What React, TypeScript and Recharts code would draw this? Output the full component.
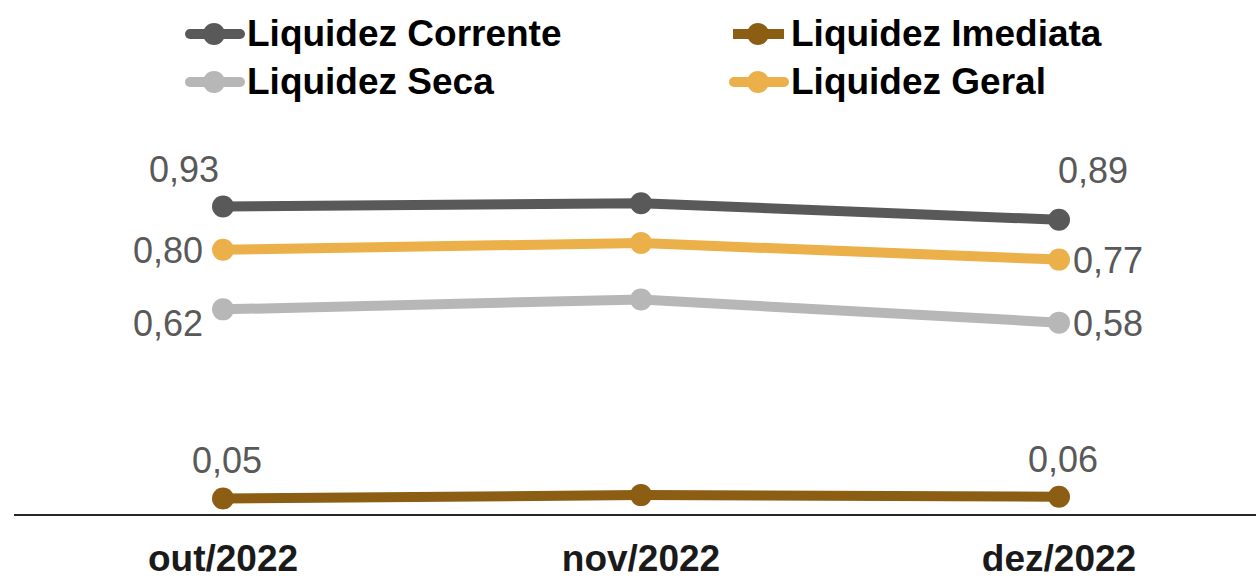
import { LineChart, Line, XAxis, YAxis } from 'recharts'

const months = ['out/2022', 'nov/2022', 'dez/2022']
const corrente = [0.93, 0.94, 0.89]
const imediata = [0.05, 0.06, 0.055]
const seca = [0.62, 0.65, 0.58]
const geral = [0.8, 0.82, 0.77]

const FONT = '"Liberation Sans", Arial, sans-serif'

// label placement for first and last point of each series
type Spot = { dx: number; dy: number; anchor: 'start' | 'middle' | 'end' }
const spots: Record<string, Spot[]> = {
  corrente: [{ dx: -39, dy: -37, anchor: 'middle' }, { dx: 34, dy: -49, anchor: 'middle' }],
  imediata: [{ dx: 4, dy: -38, anchor: 'middle' }, { dx: 4, dy: -37, anchor: 'middle' }],
  seca: [{ dx: -20, dy: 14, anchor: 'end' }, { dx: 14, dy: 1, anchor: 'start' }],
  geral: [{ dx: -20, dy: 1, anchor: 'end' }, { dx: 14, dy: 1, anchor: 'start' }],
}

const series = [
  { key: 'corrente', name: 'Liquidez Corrente', color: '#595959', cap: 'round' },
  { key: 'imediata', name: 'Liquidez Imediata', color: '#8B5E13', cap: 'butt' },
  { key: 'seca', name: 'Liquidez Seca', color: '#B7B7B7', cap: 'round' },
  { key: 'geral', name: 'Liquidez Geral', color: '#EBB04A', cap: 'round' },
]

const data = months.map((m, i) => ({
  month: m,
  corrente: corrente[i],
  imediata: imediata[i],
  seca: seca[i],
  geral: geral[i],
}))

const makeLabel = (key: string) => (props: any) => {
  const { x, y, value, index } = props
  if (index === 1) return null
  const s = spots[key][index === 0 ? 0 : 1]
  return (
    <text
      key={`${key}-${index}`}
      x={x + s.dx}
      y={y + s.dy}
      textAnchor={s.anchor}
      dominantBaseline="central"
      fontSize={36}
      fontFamily={FONT}
      fill="#595959"
    >
      {Number(value).toFixed(2).replace('.', ',')}
    </text>
  )
}

const Tick = (props: any) => {
  const { x, y, payload } = props
  return (
    <text x={x} y={y + 35} textAnchor="middle" dominantBaseline="central" fontSize={37} fontWeight="bold" fontFamily={FONT} fill="#1a1a1a">
      {payload.value}
    </text>
  )
}

const legendPos = [
  { left: 182, top: 34 },
  { left: 726, top: 34 },
  { left: 182, top: 82 },
  { left: 726, top: 82 },
]

export default function App() {
  return (
    <div style={{ position: 'absolute', left: 0, top: 0, width: 1256, height: 576, background: '#fff' }}>
      <LineChart width={1256} height={576} data={data} margin={{ top: 117, right: 0, left: 14, bottom: 0 }}>
        <XAxis
          dataKey="month"
          height={61}
          padding={{ left: 209, right: 197 }}
          axisLine={{ stroke: '#262626', strokeWidth: 2 }}
          tickLine={false}
          tick={<Tick />}
          interval={0}
        />
        <YAxis hide domain={[0, 1.2]} />
        {series.map((s) => (
          <Line
            key={s.key}
            dataKey={s.key}
            name={s.name}
            stroke={s.color}
            strokeWidth={10}
            dot={{ r: 11, fill: s.color, stroke: 'none' }}
            activeDot={false}
            isAnimationActive={false}
            label={makeLabel(s.key)}
          />
        ))}
      </LineChart>
      {series.map((s, i) => (
        <div
          key={s.key}
          style={{
            position: 'absolute',
            left: legendPos[i].left,
            top: legendPos[i].top - 20,
            height: 40,
            display: 'flex',
            alignItems: 'center',
            fontFamily: FONT,
            fontWeight: 'bold',
            fontSize: 37,
            color: '#000',
            whiteSpace: 'nowrap',
          }}
        >
          <svg width={64} height={40} style={{ marginRight: 1 }}>
            <line x1={s.cap === 'round' ? 8 : 7} y1={20} x2={s.cap === 'round' ? 58 : 58} y2={20} stroke={s.color} strokeWidth={10} strokeLinecap={s.cap as any} />
            <circle cx={32} cy={20} r={11} fill={s.color} />
          </svg>
          <span>{s.name}</span>
        </div>
      ))}
    </div>
  )
}
